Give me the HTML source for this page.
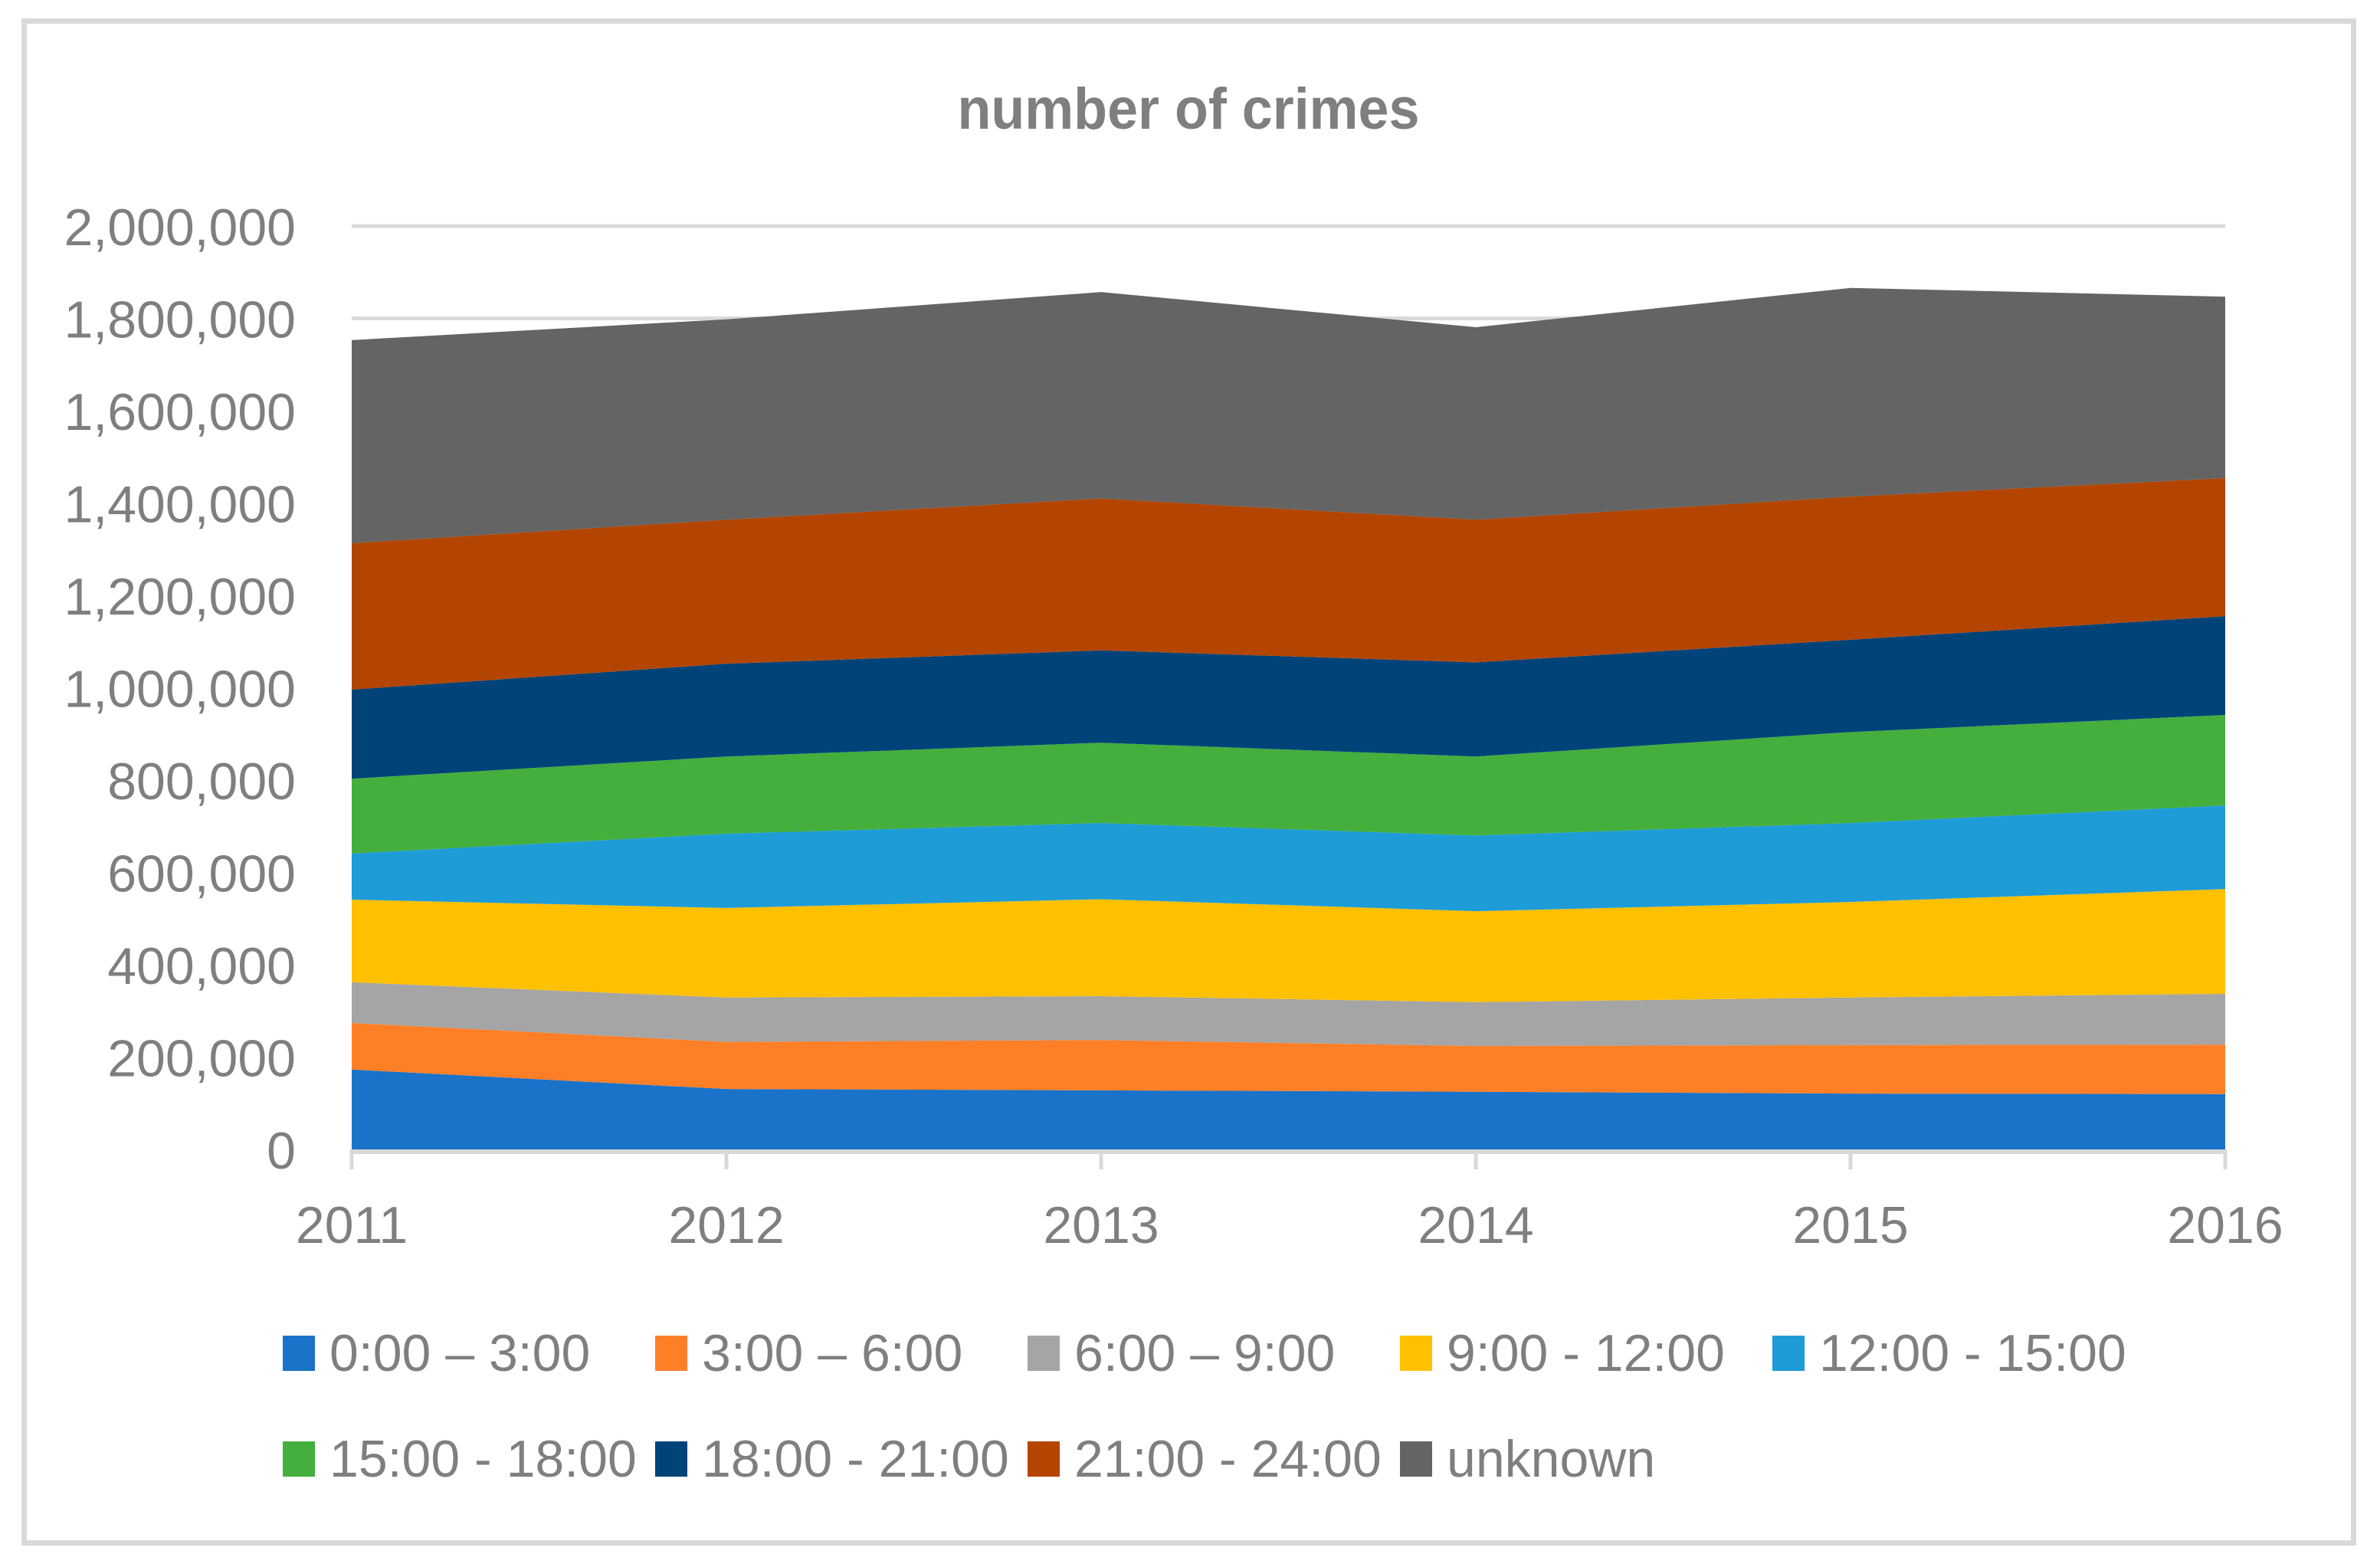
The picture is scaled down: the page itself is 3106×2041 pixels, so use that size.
<!DOCTYPE html>
<html><head><meta charset="utf-8"><style>
html,body{margin:0;padding:0;background:#fff}
svg{display:block}
text{font-family:"Liberation Sans",sans-serif;fill:#7f7f7f}
</style></head><body>
<svg id="chart" width="3106" height="2041" viewBox="0 0 3106 2041" xmlns="http://www.w3.org/2000/svg">
<rect x="31.5" y="27.5" width="3040" height="1986" fill="#fff" stroke="#d9d9d9" stroke-width="7"/>
<text x="1551" y="168" text-anchor="middle" font-size="76" font-weight="bold" textLength="603" lengthAdjust="spacingAndGlyphs">number of crimes</text>
<g id="grid"></g><g id="areas"></g><g id="axes"></g><g id="legend"></g>
</svg>
<script>
const years = ["2011","2012","2013","2014","2015","2016"];
const seriesNames = ["0:00 – 3:00","3:00 – 6:00","6:00 – 9:00","9:00 -  12:00","12:00 - 15:00","15:00 - 18:00","18:00 - 21:00","21:00 - 24:00","unknown"];
const s0 = [173000,131000,128000,125000,121000,120000];
const s1 = [101000,102000,109000,99000,105000,107000];
const s2 = [88000,96000,95000,95000,103000,110000];
const s3 = [179000,194000,210000,197000,207000,227000];
const s4 = [100000,161000,165000,164000,171000,181000];
const s5 = [162000,167000,174000,171000,197000,196000];
const s6 = [193000,201000,200000,204000,200000,214000];
const s7 = [317000,312000,329000,309000,310000,299000];
const s8 = [440000,434000,447000,417000,452000,393000];
const yTicks = [0,200000,400000,600000,800000,1000000,1200000,1400000,1600000,1800000,2000000];
const colors = ["#1a73c8","#ff7f27","#a5a5a5","#ffc000","#1e9cd8","#44af3c","#004379","#b34500","#646464"];
const series = [s0,s1,s2,s3,s4,s5,s6,s7,s8];
const NS="http://www.w3.org/2000/svg";
const X0=459,X1=2904,Y0=1500,Y1=295,YMAX=2000000;
const xs=i=>X0+(X1-X0)*i/(years.length-1);
const ys=v=>Y0-(Y0-Y1)*v/YMAX;
function mk(tag,attrs,parent){const e=document.createElementNS(NS,tag);for(const k in attrs)e.setAttribute(k,attrs[k]);parent.appendChild(e);return e;}
const grid=document.getElementById('grid'),areas=document.getElementById('areas'),axes=document.getElementById('axes'),legend=document.getElementById('legend');
yTicks.forEach(t=>{
  if(t>0){const l=mk('line',{x1:X0,x2:X1,y1:ys(t),y2:ys(t),stroke:'#d9d9d9','stroke-width':5},grid);
  
  }
  const tx=mk('text',{x:386,y:ys(t)+25,'text-anchor':'end','font-size':68},axes);
  tx.textContent=t.toLocaleString('en-US');
  
  
});
let base=years.map(()=>0);
series.forEach((s,k)=>{
  const top=base.map((b,i)=>b+s[i]);
  let d='';
  top.forEach((v,i)=>{d+=(i?'L':'M')+xs(i)+','+ys(v);});
  for(let i=years.length-1;i>=0;i--)d+='L'+xs(i)+','+ys(base[i]);
  const p=mk('path',{d:d+'Z',fill:colors[k]},areas);
  
  
  base=top;
});
const ax=mk('line',{x1:X0,x2:X1,y1:Y0+3,y2:Y0+3,stroke:'#d9d9d9','stroke-width':6},axes);


years.forEach((y,i)=>{
  const tk=mk('line',{x1:xs(i),x2:xs(i),y1:Y0,y2:1526,stroke:'#d9d9d9','stroke-width':5},axes);
  
  
  const tx=mk('text',{x:xs(i),y:1622,'text-anchor':'middle','font-size':68},axes);
  tx.textContent=y;
  
  
});
seriesNames.forEach((n,k)=>{
  const row=k<5?0:1,col=k<5?k:k-5;
  const lx=369+col*486, ly=row?1881:1743;
  const g=mk('g',{},legend);
  
  
  const r=mk('rect',{x:lx,y:ly,width:42,height:46,fill:colors[k]},g);
  
  
  const t=mk('text',{x:lx+61,y:ly+46,'font-size':68,'xml:space':'preserve'},g);
  t.textContent=n;
  
  
});
</script>
</body></html>
